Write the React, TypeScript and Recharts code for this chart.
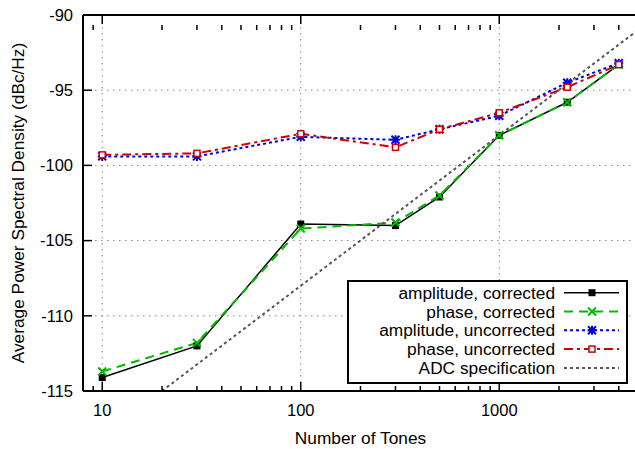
import { LineChart, Line, XAxis, YAxis, CartesianGrid, Legend } from "recharts"

const tones = [10, 30, 100, 300, 500, 1000, 2200, 4000]
const ampCorrected = [-114.1, -112.0, -103.9, -104.0, -102.1, -98.0, -95.8, -93.3]
const phaseCorrected = [-113.7, -111.8, -104.2, -103.8, -102.0, -98.0, -95.8, -93.3]
const ampUncorrected = [-99.4, -99.4, -98.1, -98.3, -97.6, -96.7, -94.5, -93.2]
const phaseUncorrected = [-99.3, -99.2, -97.9, -98.8, -97.6, -96.5, -94.8, -93.3]

const adcTones = [20, 5000]
const adcSpec = [-115, -91]

const xMajorTicks = [10, 100, 1000]
const xMinorTicks = [9, 20, 30, 40, 50, 60, 70, 80, 90, 200, 300, 400, 500, 600, 700, 800, 900, 2000, 3000, 4000]
const xAllTicks = [...xMajorTicks, ...xMinorTicks].sort((a, b) => a - b)
const yTicks = [-115, -110, -105, -100, -95, -90]

const data = tones.map((n, i) => ({
  n,
  amp: ampCorrected[i],
  phase: phaseCorrected[i],
  ampU: ampUncorrected[i],
  phaseU: phaseUncorrected[i],
}))
const adcData = adcTones.map((n, i) => ({ n, v: adcSpec[i] }))

const FONT = '"Liberation Sans", Arial, Helvetica, sans-serif'
const tickFont = { fill: "#000", fontSize: 16.5, fontFamily: FONT }
const xDomain = [8, 5000]
const yDomain = [-115, -90]

const series = [
  { key: "amp", name: "amplitude, corrected", color: "#000000", dash: undefined, width: 1.5, marker: "fsquare" },
  { key: "phase", name: "phase, corrected", color: "#00b800", dash: "9 6", width: 2, marker: "cross" },
  { key: "ampU", name: "amplitude, uncorrected", color: "#0000dd", dash: "3 3", width: 2, marker: "star" },
  { key: "phaseU", name: "phase, uncorrected", color: "#cc0000", dash: "9 4 3 4", width: 2, marker: "osquare" },
]
const adc = { name: "ADC specification", color: "#555555", dash: "3 3", width: 2 }

function Marker({ kind, x, y, color }: { kind: string; x: number; y: number; color: string }) {
  if (kind === "fsquare") return <rect x={x - 3.5} y={y - 3.5} width={7} height={7} fill={color} />
  if (kind === "osquare")
    return <rect x={x - 3} y={y - 3} width={6} height={6} fill="#fff" stroke={color} strokeWidth={1.5} />
  if (kind === "cross")
    return <path d={`M${x - 4},${y - 4}L${x + 4},${y + 4}M${x - 4},${y + 4}L${x + 4},${y - 4}`} stroke={color} strokeWidth={2} />
  if (kind === "star")
    return (
      <path
        d={`M${x - 4},${y - 4}L${x + 4},${y + 4}M${x - 4},${y + 4}L${x + 4},${y - 4}M${x - 4.5},${y}L${x + 4.5},${y}M${x},${y - 4.5}L${x},${y + 4.5}`}
        stroke={color}
        strokeWidth={2}
      />
    )
  return null
}

const makeDot = (kind: string, color: string) => (p: any) => (
  <g key={p.key}>
    <Marker kind={kind} x={p.cx} y={p.cy} color={color} />
  </g>
)

// bottom axis: inward ticks (long for decades, short in between), labels on decades only
const TICK_GAP = 13
function BottomTick(p: any) {
  const v = p.payload.value
  const major = xMajorTicks.includes(v)
  return (
    <g>
      <line x1={p.x} x2={p.x} y1={p.y - TICK_GAP} y2={p.y - TICK_GAP - (major ? 9 : 5)} stroke="#000" strokeWidth={1.5} />
      {major && (
        <text x={p.x} y={p.y} dy="0.71em" textAnchor="middle" {...tickFont}>
          {v}
        </text>
      )}
    </g>
  )
}

function LegendBox() {
  const rows = [...series, { ...adc, marker: "" }]
  return (
    <svg width={281} height={104} style={{ display: "block" }}>
      <rect x={1} y={1} width={279} height={102} fill="#fff" stroke="#000" strokeWidth={2} />
      {rows.map((s, i) => {
        const cy = 12.7 + i * 18.8
        return (
          <g key={s.name}>
            <text x={208} y={cy} dy="0.35em" textAnchor="end" fontSize={17.3} fontFamily={FONT} fill="#000">
              {s.name}
            </text>
            <line x1={217} x2={272} y1={cy} y2={cy} stroke={s.color} strokeWidth={s.width} strokeDasharray={s.dash} />
            {s.marker && <Marker kind={s.marker} x={245} y={cy} color={s.color} />}
          </g>
        )
      })}
    </svg>
  )
}

const blank = () => ""

export default function App() {
  return (
    <div style={{ position: "absolute", left: 0, top: 0, width: 635, height: 449, overflow: "hidden", background: "#fff" }}>
      <LineChart width={639} height={449} data={data} margin={{ top: 15, right: 1, bottom: 0, left: 0 }}>
        <CartesianGrid xAxisId="grid" stroke="#888" strokeDasharray="1.5 4.5" />
        <XAxis
          dataKey="n"
          type="number"
          scale="log"
          domain={xDomain}
          allowDataOverflow
          ticks={xAllTicks}
          interval={0}
          height={58}
          tick={<BottomTick />}
          tickSize={0}
          tickMargin={TICK_GAP}
          tickLine={false}
          axisLine={{ stroke: "#000", strokeWidth: 2 }}
          label={{ value: "Number of Tones", position: "insideBottom", offset: 5, fill: "#000", fontSize: 17.3, fontFamily: FONT }}
        />
        <XAxis
          xAxisId="grid"
          dataKey="n"
          type="number"
          scale="log"
          domain={xDomain}
          allowDataOverflow
          ticks={xMajorTicks}
          interval={0}
          hide
        />
        <XAxis
          xAxisId="tmajor"
          orientation="top"
          dataKey="n"
          type="number"
          scale="log"
          domain={xDomain}
          allowDataOverflow
          ticks={xMajorTicks}
          interval={0}
          mirror
          height={10}
          tickSize={9}
          tickFormatter={blank}
          axisLine={{ stroke: "#000", strokeWidth: 2 }}
          tickLine={{ stroke: "#000", strokeWidth: 1.5 }}
        />
        <XAxis
          xAxisId="tminor"
          orientation="top"
          dataKey="n"
          type="number"
          scale="log"
          domain={xDomain}
          allowDataOverflow
          ticks={xMinorTicks}
          interval={0}
          mirror
          height={10}
          tickSize={5}
          tickFormatter={blank}
          axisLine={false}
          tickLine={{ stroke: "#000", strokeWidth: 1.5 }}
        />
        <YAxis
          type="number"
          domain={yDomain}
          ticks={yTicks}
          interval={0}
          width={83}
          tick={tickFont}
          tickSize={-9}
          tickMargin={19}
          axisLine={{ stroke: "#000", strokeWidth: 2 }}
          tickLine={{ stroke: "#000", strokeWidth: 1.5 }}
          label={{
            value: "Average Power Spectral Density (dBc/Hz)",
            angle: -90,
            position: "insideLeft",
            offset: 17.5,
            fill: "#000",
            fontSize: 17.3,
            fontFamily: FONT,
            style: { textAnchor: "middle" },
          }}
        />
        <YAxis
          yAxisId="right"
          orientation="right"
          type="number"
          domain={yDomain}
          ticks={yTicks}
          interval={0}
          mirror
          width={10}
          tickSize={9}
          tickFormatter={blank}
          axisLine={{ stroke: "#000", strokeWidth: 2 }}
          tickLine={{ stroke: "#000", strokeWidth: 1.5 }}
        />
        {series.map((s) => (
          <Line
            key={s.key}
            type="linear"
            dataKey={s.key}
            name={s.name}
            stroke={s.color}
            strokeWidth={s.width}
            strokeDasharray={s.dash}
            dot={makeDot(s.marker, s.color)}
            activeDot={false}
            isAnimationActive={false}
          />
        ))}
        <Line
          type="linear"
          data={adcData}
          dataKey="v"
          name={adc.name}
          stroke={adc.color}
          strokeWidth={adc.width}
          strokeDasharray={adc.dash}
          dot={false}
          activeDot={false}
          isAnimationActive={false}
        />
        <Legend
          layout="vertical"
          align="center"
          verticalAlign="middle"
          wrapperStyle={{ left: 347, top: 280, width: 281, height: 104 }}
          content={() => <LegendBox />}
        />
      </LineChart>
    </div>
  )
}
